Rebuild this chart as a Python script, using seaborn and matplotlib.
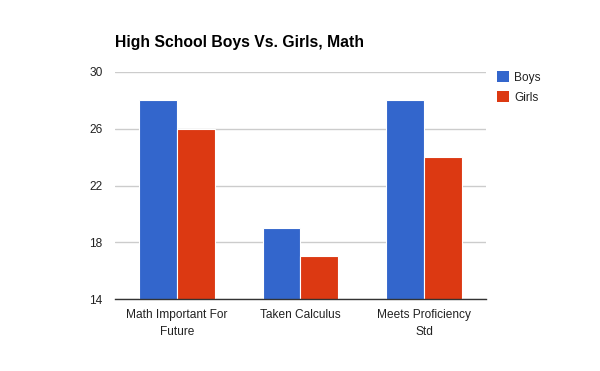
import pandas as pd
import seaborn as sns
import matplotlib.pyplot as plt
from matplotlib.patches import Patch

categories = ['Math Important For\nFuture', 'Taken Calculus', 'Meets Proficiency\nStd']
boys = [28, 19, 28]
girls = [26, 17, 24]
series = ['Boys', 'Girls']
colors = ['#3366cc', '#dc3912']
y_ticks = [14, 18, 22, 26, 30]

df = pd.DataFrame({
    'category': categories * 2,
    'value': boys + girls,
    'series': ['Boys'] * len(boys) + ['Girls'] * len(girls),
})

sns.set_style('white')
plt.rcParams['font.family'] = ['Liberation Sans', 'DejaVu Sans']

fig = plt.figure(figsize=(6, 3.71), dpi=100)
ax = fig.add_axes([0.1917, 0.194, 0.618, 0.612])

sns.barplot(data=df, x='category', y='value', hue='series', palette=colors,
            saturation=1, width=0.61, edgecolor='white', linewidth=0.8,
            legend=False, ax=ax, zorder=3)

ax.set_ylim(14, 30)
ax.set_xlim(-0.5, 2.5)
ax.set_yticks(y_ticks)
ax.set_yticklabels([str(t) for t in y_ticks])
ax.grid(axis='y', color='#cccccc', linewidth=1, zorder=0)
ax.set_xlabel('')
ax.set_ylabel('')
for side in ['top', 'right', 'left']:
    ax.spines[side].set_visible(False)
ax.spines['bottom'].set_color('#333333')
ax.spines['bottom'].set_linewidth(1)
ax.spines['bottom'].set_zorder(4)
ax.tick_params(axis='both', length=0, labelsize=8.6, colors='#222222')
ax.tick_params(axis='y', pad=9)
ax.tick_params(axis='x', pad=7)
for lbl in ax.get_xticklabels():
    lbl.set_linespacing(1.55)

fig.text(0.1917, 0.865, 'High School Boys Vs. Girls, Math', fontsize=11.3,
         fontweight='bold', color='#000000', ha='left', va='bottom')

handles = [Patch(facecolor=c, edgecolor='none') for c in colors]
fig.legend(handles, series, loc='upper left', bbox_to_anchor=(0.82, 0.822),
           frameon=False, fontsize=8.6, handlelength=1.0, handleheight=1.1,
           handletextpad=0.45, labelspacing=0.6, borderaxespad=0,
           labelcolor='#222222')

fig.savefig('out.png', dpi=100)
